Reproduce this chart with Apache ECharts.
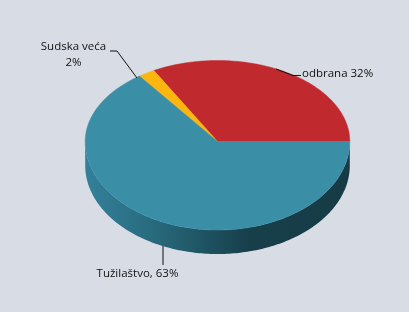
<!DOCTYPE html>
<html>
<head>
<meta charset="utf-8">
<script src="https://cdn.jsdelivr.net/npm/echarts@6/dist/echarts.min.js"></script>
<style>
html,body{margin:0;padding:0;background:#d8dde5;}
#main{width:409px;height:312px;}
</style>
</head>
<body>
<div id="main"></div>
<script>
// ---- data ----
const names = ['odbrana', 'Sudska veća', 'Tužilaštvo'];
const values = [32, 2, 63];
const labelSep = [' ', '\n', ', '];

// ---- layout / style ----
const CX = 217.5, CY = 141.5, RX = 132.3, RY_TOP = 81, RY_BOT = 88.5, DEPTH = 24;
const topColors = ['#c02a2f', '#fdb50f', '#3a8fa7'];
const sideColors = [
  '#8a1e22',
  '#b98208',
  {type: 'linear', x: 86, y: 0, x2: 350, y2: 0, global: true,
   colorStops: [
     {offset: 0, color: '#33809a'},
     {offset: 0.25, color: '#286b7e'},
     {offset: 0.5, color: '#1c4d5b'},
     {offset: 0.62, color: '#173f4a'},
     {offset: 1, color: '#163b45'}
   ]}
];
const labelLayout = [
  {x: 302, y: 73.5, align: 'left', line: [[276, 69], [293, 75.5], [301, 75.5]]},
  {x: 73.5, y: 54.5, align: 'center', line: [[110, 51], [117, 51], [137, 78]]},
  {x: 137.5, y: 274, align: 'center', line: [[163, 246], [163, 265]]}
];

const total = values.reduce((a, b) => a + b, 0);
let cum = 0;
const seriesData = values.map((v, i) => {
  const d = {name: names[i], value: [v, cum, total]};
  cum += v;
  return d;
});

function rim(deg, dy) {
  const t = deg * Math.PI / 180;
  const s = Math.sin(t);
  const ry = s > 0 ? RY_TOP : RY_BOT;
  return [CX + RX * Math.cos(t), CY - ry * s + (dy || 0)];
}
function arc(a0, a1, dy) {
  const pts = [];
  const n = Math.max(2, Math.ceil(Math.abs(a1 - a0) / 1));
  for (let k = 0; k <= n; k++) pts.push(rim(a0 + (a1 - a0) * k / n, dy));
  return pts;
}

const chart = echarts.init(document.getElementById('main'), null, {renderer: 'canvas'});
chart.setOption({
  backgroundColor: '#d8dde5',
  animation: false,
  series: [{
    type: 'custom',
    coordinateSystem: 'none',
    data: seriesData,
    renderItem: function (params, api) {
      const i = params.dataIndex;
      const v = api.value(0), start = api.value(1), tot = api.value(2);
      const a0 = start / tot * 360, a1 = (start + v) / tot * 360;
      const children = [];
      // front side wall (lower half of ellipse: 180..360)
      const s = Math.max(a0, 180), e = Math.min(a1, 360);
      if (s < e) {
        const pts = arc(s, e, 0).concat(arc(e, s, DEPTH));
        children.push({type: 'polygon', shape: {points: pts}, style: {fill: sideColors[i]}, z2: 1});
      }
      // top face
      const top = [[CX, CY]].concat(arc(a0, a1, 0));
      children.push({type: 'polygon', shape: {points: top}, style: {fill: topColors[i], stroke: topColors[i], lineWidth: 0.5}, z2: 2});
      // leader line + label
      const L = labelLayout[i];
      children.push({type: 'polyline', shape: {points: L.line}, style: {stroke: '#111', lineWidth: 1, fill: null}, z2: 3});
      children.push({
        type: 'text', x: L.x, y: L.y, z2: 4,
        style: {
          text: names[i] + labelSep[i] + v + '%',
          fill: '#111',
          font: '11.5px "Open Sans", sans-serif',
          align: L.align, verticalAlign: 'middle', lineHeight: 16.5
        }
      });
      return {type: 'group', children: children};
    }
  }]
});
</script>
</body>
</html>
